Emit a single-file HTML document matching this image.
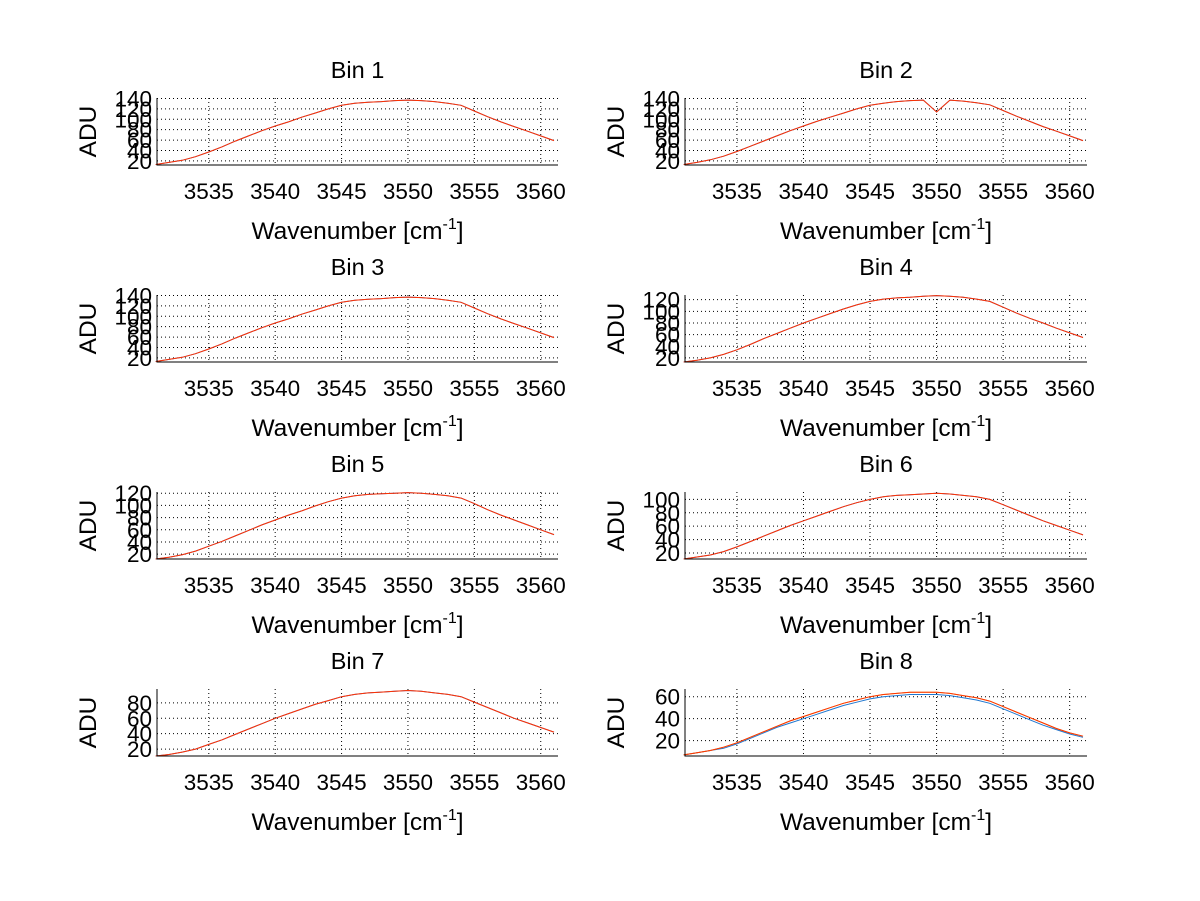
<!DOCTYPE html>
<html><head><meta charset="utf-8"><style>
html,body{margin:0;padding:0;background:#fff;}
svg{display:block;font-family:"Liberation Sans",sans-serif;}
</style></head><body>
<svg id="fig" width="1200" height="901" viewBox="0 0 1200 901"></svg>
<script>
const wavenumbers=[3531,3532,3533,3534,3535,3536,3537,3538,3539,3540,3541,3542,3543,3544,3545,3546,3547,3548,3549,3550,3551,3552,3553,3554,3555,3556,3557,3558,3559,3560,3561];
const bin1=[13,17,21,28,37,47,58,68,78,87,95,104,112,120,127,131,133,134,136,137,136,134,131,127,116,105,95,86,77,68,59];
const bin2=[13,17,22,29,38,48,58,68,78,87,96,104,112,120,127,131,134,136,137,114,137,135,132,128,117,106,96,86,77,68,59];
const bin3=[13,17,21,28,37,47,58,68,78,87,95,104,112,120,127,131,133,134,136,137,136,134,131,127,116,105,95,86,77,68,59];
const bin4=[13,16,20,26,34,43,53,62,71,80,88,96,104,111,117,121,123,124,126,127,126,124,121,117,107,97,88,80,71,63,55];
const bin5=[12,15,19,25,33,41,50,59,68,76,84,91,99,106,112,116,118,119,120,121,120,118,116,112,103,93,84,76,68,60,52];
const bin6=[11,14,17,22,29,37,45,53,61,68,75,82,89,95,100,104,106,107,108,109,108,106,104,100,92,84,76,68,61,54,47];
const bin7=[11,13,16,20,26,32,39,46,53,60,66,72,78,83,88,91,93,94,95,96,95,93,91,88,81,74,67,60,54,48,42];
const bin8=[7,9,11,14,18,23,28,33,38,42,46,50,54,57,60,62,63,64,64,64,63,61,59,56,51,46,41,36,31,27,24];
const bin8low=[7,9,11,13,17,22,27,32,36,40,44,48,52,55,58,60,61,62,62,62,61,59,57,54,49,44,39,34,30,26,23];
const xTicks=[3535,3540,3545,3550,3555,3560];
const xLim=[3531.1,3561.3];
const yTicks1=[20,40,60,80,100,120,140];
const yTicks4=[20,40,60,80,100,120];
const yTicks6=[20,40,60,80,100];
const yTicks7=[20,40,60,80];
const yTicks8=[20,40,60];
const yLims=[[12,141],[12,141],[12,141],[13,128],[12,122],[11,111],[11,98],[6,67]];

const panels=[
 {title:"Bin 1",data:[bin1],ticks:yTicks1},
 {title:"Bin 2",data:[bin2],ticks:yTicks1},
 {title:"Bin 3",data:[bin3],ticks:yTicks1},
 {title:"Bin 4",data:[bin4],ticks:yTicks4},
 {title:"Bin 5",data:[bin5],ticks:yTicks4},
 {title:"Bin 6",data:[bin6],ticks:yTicks6},
 {title:"Bin 7",data:[bin7],ticks:yTicks7},
 {title:"Bin 8",data:[bin8low,bin8],ticks:yTicks8}
];
const NS="http://www.w3.org/2000/svg";
const svg=document.getElementById('fig');
function mk(tag,attrs,parent){const e=document.createElementNS(NS,tag);for(const k in attrs)e.setAttribute(k,attrs[k]);parent.appendChild(e);return e;}
const colsX=[[157,558],[685,1087]];
const rowsY=[98,295,492,689];
const H=67;
panels.forEach((p,i)=>{
 const [x0,x1]=colsX[i%2];const y0=rowsY[Math.floor(i/2)];const y1=y0+H;
 const [ymin,ymax]=yLims[i];
 const sx=v=>x0+(v-xLim[0])/(xLim[1]-xLim[0])*(x1-x0);
 const sy=v=>y1-(v-ymin)/(ymax-ymin)*H;
 const g=mk('g',{},svg);
 
 
 xTicks.forEach(t=>{const X=sx(t);
  const gl=mk('line',{x1:X,x2:X,y1:y0,y2:y1,stroke:'#000','stroke-width':1,'stroke-dasharray':'1,3'},g);
  
  
  const tl=mk('text',{x:X,y:y1+34,'font-size':22.5,'text-anchor':'middle'},g);tl.textContent=t;
  
  
 });
 p.ticks.forEach(t=>{const Y=sy(t);
  const gl=mk('line',{x1:x0,x2:x1,y1:Y,y2:Y,stroke:'#000','stroke-width':1,'stroke-dasharray':'1,3'},g);
  
  
  const tl=mk('text',{x:x0-5,y:Y+8,'font-size':22.5,'text-anchor':'end'},g);tl.textContent=t;
  
  
 });
 const colors=p.data.length>1?['#1f77d0','#e0a020','#ff3300']:['#3050c0','#ff3300'];
 const series=p.data.length>1?[p.data[0],p.data[1],p.data[1]]:[p.data[0],p.data[0]];
 series.forEach((s,k)=>{
  const pts=s.map((v,j)=>sx(wavenumbers[j]).toFixed(1)+','+sy(v).toFixed(1)).join(' ');
  const pl=mk('polyline',{points:pts,fill:'none',stroke:colors[k],'stroke-width':1},g);
  
  
 });
 const ax=mk('path',{d:`M${x0},${y0} V${y1} H${x1}`,fill:'none',stroke:'#000','stroke-width':1},g);
 
 
 const ti=mk('text',{x:(x0+x1)/2,y:y0-20,'font-size':23.5,'text-anchor':'middle'},g);ti.textContent=p.title;
 
 
 const xl=mk('text',{x:(x0+x1)/2,y:y1+74,'font-size':24.5,'text-anchor':'middle'},g);
 xl.innerHTML='Wavenumber [cm<tspan dy="-10" font-size="16">-1</tspan><tspan dy="10">]</tspan>';
 
 
 const yl=mk('text',{x:0,y:0,'font-size':24.5,'text-anchor':'middle',transform:`translate(${x0-61},${(y0+y1)/2}) rotate(-90)`},g);yl.textContent='ADU';
 
 
});
</script>
</body></html>
